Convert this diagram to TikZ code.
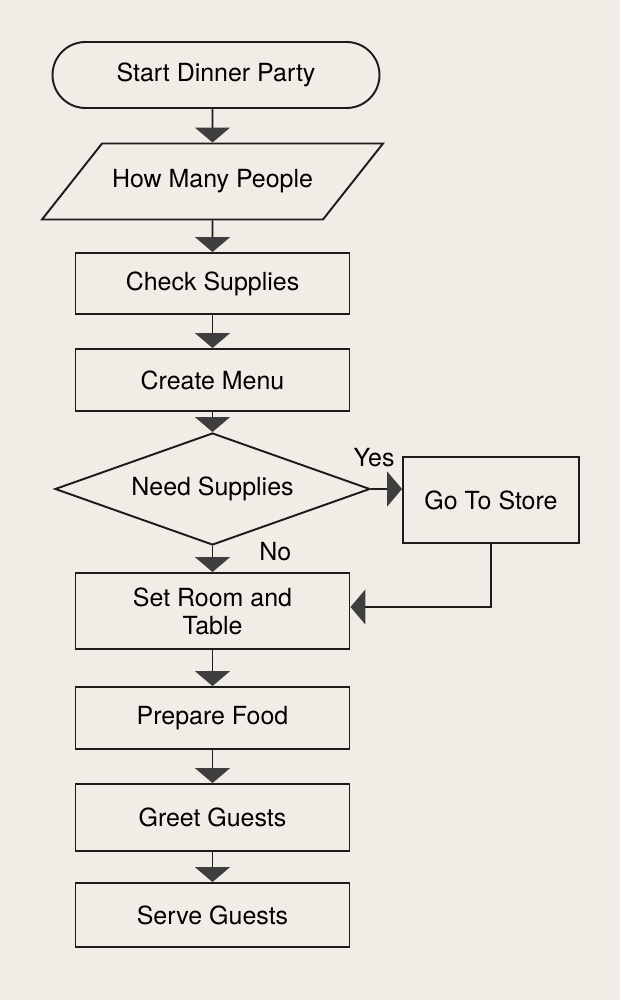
\documentclass[tikz,border=0pt]{standalone}
\usepackage{fontspec}
\setmainfont{TeX Gyre Heros}
\usetikzlibrary{arrows.meta,shapes.geometric}
\definecolor{paper}{RGB}{241,236,229}
\definecolor{ink}{RGB}{28,28,28}
\definecolor{tipgray}{RGB}{62,62,62}
\tikzset{
	box/.style={draw=ink, line width=1.1pt, rectangle, minimum width=5.48cm, inner sep=0pt, align=center},
	term/.style={box, rounded corners=0.66cm, minimum width=6.54cm, minimum height=1.32cm},
	io/.style={draw=ink, line width=1.1pt, trapezium, trapezium left angle=51.7, trapezium right angle=128.3, trapezium stretches body=true, minimum width=6.82cm, text height=0.34cm, text depth=0.1cm, inner xsep=0pt, inner ysep=0.54cm},
	decide/.style={draw=ink, line width=1.1pt, diamond, aspect=2.8, minimum width=6.3cm, minimum height=2.24cm, inner sep=0pt},
	flow/.style={draw=ink, line width=1.1pt, -{Triangle[width=0.7cm, length=0.3cm, color=tipgray]}}
}

\begin{document}
\begin{tikzpicture}[font=\fontsize{14.2}{16}\selectfont]
		%%%%% START %%%%%
		\fill[paper] (0, 0) rectangle (12.4, 20);
		
		\node[term] (start) at (4.32, 18.5) {Start Dinner Party};
		\node[io] (people) at (4.25, 16.37) {How Many People};
		\node[box, minimum height=1.22cm] (check) at (4.25, 14.33) {Check Supplies};
		\node[box, minimum height=1.24cm] (menu) at (4.25, 12.4) {Create Menu};
		\node[decide] (need) at (4.25, 10.22) {Need Supplies};
		\node[box, minimum width=3.52cm, minimum height=1.72cm] (store) at (9.82, 10.0) {Go To Store};
		\node[box, minimum height=1.52cm] (room) at (4.25, 7.78) {Set Room and\\Table};
		\node[box, minimum height=1.24cm] (food) at (4.25, 5.64) {Prepare Food};
		\node[box, minimum height=1.34cm] (greet) at (4.25, 3.65) {Greet Guests};
		\node[box, minimum height=1.28cm] (serve) at (4.25, 1.7) {Serve Guests};
		
		\draw[flow] (start.south -| people) -- (people.north);
		\draw[flow] (people.south) -- (check.north);
		\draw[flow] (check.south) -- (menu.north);
		\draw[flow] (menu.south) -- (need.north);
		\draw[flow] (need.east) -- node[pos=0.1, above=0.3cm] {Yes} (need.east -| store.west);
		\draw[flow] (need.south) -- node[pos=0.2, right=0.8cm] {No} (room.north);
		\draw[flow] (store.south) |- ([yshift=0.08cm]room.east);
		\draw[flow] (room.south) -- (food.north);
		\draw[flow] (food.south) -- (greet.north);
		\draw[flow] (greet.south) -- (serve.north);
		%%%%% END %%%%%
	\end{tikzpicture}
\end{document}
